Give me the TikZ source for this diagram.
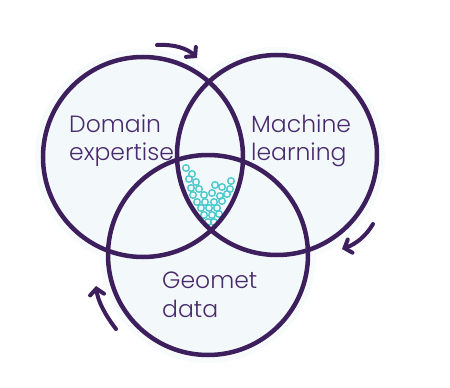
\documentclass[tikz,border=0pt]{standalone}
\usepackage{fontspec}
\setmainfont{Poppins}[UprightFont=* Light]
\usetikzlibrary{arrows.meta}
\definecolor{vpurple}{HTML}{3E1F5E}
\definecolor{vtext}{HTML}{4A2A6E}
\definecolor{vfill}{HTML}{F3F9FA}
\definecolor{vglow}{HTML}{F7FBFC}
\definecolor{vdot}{HTML}{4CC9CC}
\tikzset{
  venn/.style={circle, minimum size=200pt, inner sep=0pt, line width=4.5pt, draw=vpurple},
  vlabel/.style={font=\fontsize{23.5}{28}\selectfont, text=vtext, anchor=base west, inner sep=0pt},
  ring/.style={circle, draw=vdot, line width=1.4pt, minimum size=6.6pt, inner sep=0pt},
  cyc/.style={line width=4pt, draw=vpurple, line cap=round, -{Straight Barb[length=6pt,width=14pt,line cap=round]}}
}
\begin{document}
\begin{tikzpicture}[x=1pt,y=-1pt]
\useasboundingbox[fill=white] (0,0) rectangle (450,388);
% glow and fills
\foreach \c in {(143,157),(277,155),(208,255)}
  \fill[vglow] \c circle[radius=108];
\foreach \c in {(143,157),(277,155),(208,255)}
  \fill[vfill] \c circle[radius=100];
% rings in triple intersection
\foreach [count=\i] \p in {(186,168),(192,174),(189,179),(196,182),(231,181),(215,185),(191,188),(199,189),(222,187),(230,189),(193,195),(204,195),(212,193),(220,196),(227,194),(197,202),(205,202),(214,202),(222,201),(201,208),(209,208),(217,208),(204,215),(212,215),(219,214),(208,222),(214,222)}
  \node[ring] (d\i) at \p {};
% circles
\node[venn] (dom) at (143,157) {};
\node[venn] (ml) at (277,155) {};
\node[venn] (geo) at (208,255) {};
% labels
\node[vlabel] (t1) at (69,132) {Domain};
\node[vlabel] (t2) at (69,160) {expertise};
\node[vlabel] (t3) at (251,132) {Machine};
\node[vlabel] (t4) at (251,160) {learning};
\node[vlabel] (t5) at (162,288) {Geomet};
\node[vlabel] (t6) at (162,317) {data};
% cycle arrows
\coordinate (a1s) at (157,45);
\coordinate (a1e) at (197,58);
\coordinate (a2s) at (373,224);
\coordinate (a2e) at (342,249);
\coordinate (a3s) at (116,329);
\coordinate (a3e) at (96,286);
\draw[cyc] (a1s) .. controls (175,44) and (188,49) .. (a1e);
\draw[cyc] (a2s) .. controls (366,236) and (356,244) .. (a2e);
\draw[cyc] (a3s) .. controls (106,316) and (98,302) .. (a3e);
\end{tikzpicture}
\end{document}
